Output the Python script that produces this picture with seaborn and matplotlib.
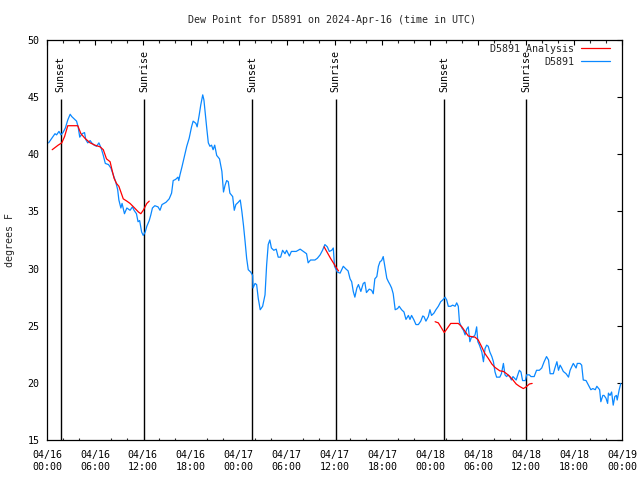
import matplotlib
matplotlib.use('Agg')
import matplotlib.pyplot as plt
from matplotlib.lines import Line2D
from matplotlib.ticker import MultipleLocator
import seaborn as sns
import pandas as pd

# ---------------- data (hours since 2024-04-16 00:00 UTC, dew point degF) ----------------
obs_hours = [0.2, 0.6, 1.0, 1.2, 1.5, 1.75, 2.0, 2.3, 2.6, 2.9, 3.1, 3.4, 3.7, 3.9, 4.1, 4.4, 4.7, 4.85,
             5.1, 5.4, 5.6, 5.9, 6.2, 6.5, 6.8, 7.05, 7.3, 7.7, 8.0, 8.3, 8.6, 8.85, 9.0, 9.25, 9.4, 9.7,
             10.0, 10.4, 10.7, 10.9, 11.2, 11.4, 11.6, 11.85, 12.05, 12.3, 12.5, 12.8, 13.0, 13.2, 13.5,
             13.9, 14.15, 14.4, 14.9, 15.3, 15.6, 15.8, 16.1, 16.4, 16.5, 16.65, 16.9, 17.2, 17.5, 17.8,
             18.1, 18.3, 18.65, 18.8, 19.05, 19.25, 19.5, 19.65, 19.8, 20.0, 20.2, 20.4, 20.6, 20.8, 21.0,
             21.25, 21.6, 21.9, 22.1, 22.3, 22.5, 22.7, 22.9, 23.25, 23.45, 23.65, 23.95, 24.2, 24.4, 24.6,
             24.8, 25.0, 25.2, 25.5, 25.75, 25.8, 26.05, 26.25, 26.45, 26.7, 27.0, 27.3, 27.5, 27.7, 27.9,
             28.1, 28.4, 28.7, 28.95, 29.25, 29.5, 29.8, 30.0, 30.35, 30.6, 31.2, 31.7, 32.1, 32.5, 32.7,
             33.0, 33.55, 33.85, 34.2, 34.5, 34.8, 35.1, 35.35, 35.65, 35.85, 36.0, 36.35, 36.7, 36.9, 37.1,
             37.45, 37.7, 37.95, 38.15, 38.35, 38.55, 38.8, 39.0, 39.3, 39.6, 39.8, 40.0, 40.35, 40.65,
             40.85, 41.05, 41.3, 41.5, 41.7, 41.9, 42.1, 42.3, 42.55, 42.75, 42.95, 43.15, 43.35, 43.6,
             43.9, 44.1, 44.4, 44.7, 44.95, 45.25, 45.45, 45.65, 45.95, 46.2, 46.5, 46.8, 47.05, 47.2,
             47.45, 47.75, 47.95, 48.15, 48.45, 48.7, 49.0, 49.3, 49.55, 49.85, 50.05, 50.25, 50.55, 50.8,
             51.1, 51.3, 51.5, 51.65, 51.95, 52.15, 52.35, 52.55, 52.75, 52.95, 53.15, 53.35, 53.6, 53.8,
             53.95, 54.15, 54.45, 54.65, 54.85, 55.05, 55.25, 55.45, 55.7, 55.9, 56.1, 56.3, 56.7, 56.9,
             57.15, 57.35, 57.55, 57.75, 57.95, 58.15, 58.35, 58.55, 58.75, 58.95, 59.15, 59.35, 59.55,
             59.9, 60.05, 60.4, 60.6, 61.0, 61.3, 61.65, 61.95, 62.25, 62.55, 62.8, 63.0, 63.4, 63.6,
             63.85, 64.05, 64.25, 64.45, 64.65, 65.0, 65.3, 65.5, 65.7, 65.9, 66.25, 66.4, 66.75, 66.95,
             67.15, 67.5, 67.8, 68.1, 68.35, 68.65, 68.85, 69.2, 69.35, 69.6, 69.75, 70.0, 70.2, 70.3,
             70.5, 70.7, 70.9, 71.1, 71.3, 71.4, 71.65, 71.85]
obs_dewpt = [41.0, 41.4, 41.8, 41.7, 42.0, 41.7, 41.9, 42.3, 43.0, 43.5, 43.3, 43.1, 42.9, 42.4, 41.5, 41.8,
             41.9, 41.3, 41.0, 41.2, 41.0, 40.8, 40.7, 41.0, 40.5, 39.9, 39.2, 39.1, 38.8, 38.2, 37.6, 36.9,
             36.0, 35.3, 35.7, 34.8, 35.3, 35.1, 35.4, 35.1, 34.8, 34.1, 34.2, 33.2, 32.9, 33.2, 33.7, 34.2,
             34.7, 35.3, 35.5, 35.4, 35.1, 35.6, 35.8, 36.1, 36.6, 37.7, 37.8, 38.0, 37.7, 38.2, 38.9, 39.8,
             40.7, 41.4, 42.4, 42.9, 42.7, 42.4, 43.4, 44.3, 45.2, 44.75, 43.7, 42.3, 41.0, 40.7, 40.8, 40.4,
             40.8, 39.9, 39.6, 38.5, 36.7, 37.3, 37.7, 37.6, 36.6, 36.3, 35.1, 35.6, 35.8, 36.0, 35.0, 33.8,
             32.4, 30.9, 29.9, 29.7, 29.4, 28.3, 28.7, 28.6, 27.4, 26.4, 26.7, 27.7, 30.3, 32.1, 32.5, 31.8,
             31.6, 31.7, 31.0, 31.0, 31.6, 31.3, 31.6, 31.1, 31.5, 31.5, 31.7, 31.5, 31.3, 30.5, 30.75, 30.75,
             30.9, 31.2, 31.6, 32.1, 31.9, 31.5, 31.6, 31.8, 30.2, 29.7, 29.6, 29.9, 30.2, 29.95, 29.8, 29.1,
             28.85, 28.0, 27.5, 28.3, 28.6, 28.0, 28.7, 28.8, 27.9, 28.2, 28.1, 27.8, 29.1, 29.3, 30.2, 30.6,
             30.7, 31.05, 30.2, 29.15, 28.85, 28.6, 28.3, 27.8, 26.4, 26.5, 26.7, 26.4, 26.2, 25.55, 25.9,
             25.55, 25.9, 25.5, 25.1, 25.1, 25.4, 25.85, 25.8, 25.4, 25.8, 26.4, 25.9, 26.1, 26.4, 26.7, 27.1,
             27.25, 27.5, 27.25, 26.7, 26.7, 26.8, 26.7, 27.0, 26.7, 25.3, 24.8, 24.6, 24.2, 24.7, 24.9, 23.6,
             24.0, 24.0, 24.2, 24.9, 23.6, 23.3, 22.7, 21.85, 23.0, 23.3, 23.2, 22.7, 22.3, 21.85, 20.95, 20.5,
             20.5, 20.8, 21.7, 20.7, 20.55, 20.7, 20.55, 20.25, 20.55, 20.4, 20.25, 20.7, 21.1, 20.95, 20.2,
             20.2, 20.7, 20.7, 20.55, 20.55, 21.1, 21.1, 21.3, 21.85, 22.3, 22.0, 20.8, 20.8, 21.3, 21.85,
             21.1, 21.55, 21.3, 21.0, 20.8, 20.5, 21.1, 21.4, 21.7, 21.3, 21.7, 21.7, 21.55, 20.25, 20.2,
             19.8, 19.4, 19.5, 19.4, 19.7, 19.4, 18.35, 18.9, 18.9, 18.65, 18.2, 19.1, 18.9, 19.2, 18.05,
             18.8, 18.9, 18.5, 19.4, 19.95]

ana_hours = [0.65, 1.4, 1.85, 2.2, 2.6, 3.85, 4.25, 4.75, 5.4, 6.0, 6.65, 7.05, 7.45, 7.9, 8.1, 8.4, 8.7,
             9.0, 9.25, 9.55, 10.0, 10.4, 10.9, 11.45, 11.75, 12.05, 12.5, 12.8,
             34.7, 35.1, 35.5, 35.9, 36.2, 36.5,
             48.6, 49.0, 49.75, 50.55, 51.5, 51.95, 52.35, 52.75, 53.15, 53.6, 54.0, 54.4, 54.8, 55.25,
             55.7, 56.1, 56.7, 57.15, 57.55, 57.95, 58.35, 58.75, 59.15, 59.65, 60.0, 60.4, 60.75]
ana_dewpt = [40.4, 40.8, 41.0, 41.55, 42.5, 42.5, 41.8, 41.4, 41.0, 40.8, 40.65, 40.4, 39.6, 39.35, 38.75,
             37.9, 37.45, 37.2, 36.7, 36.1, 35.9, 35.7, 35.35, 34.95, 34.8, 35.1, 35.7, 35.9,
             31.9, 31.4, 30.9, 30.45, 30.1, 29.8,
             25.35, 25.25, 24.4, 25.2, 25.2, 24.9, 24.5, 24.1, 24.05, 24.0, 23.75, 23.2, 22.6, 22.15,
             21.65, 21.35, 21.05, 21.0, 20.8, 20.55, 20.25, 19.9, 19.7, 19.5, 19.65, 19.9, 19.95]
ana_segment = [1] * 28 + [2] * 6 + [3] * 27

sun_hours = [1.72, 12.18, 25.71, 36.15, 49.75, 60.02]
sun_labels = ['Sunset', 'Sunrise', 'Sunset', 'Sunrise', 'Sunset', 'Sunrise']

xtick_hours = list(range(0, 73, 6))
xtick_labels = ['04/16\n00:00', '04/16\n06:00', '04/16\n12:00', '04/16\n18:00',
                '04/17\n00:00', '04/17\n06:00', '04/17\n12:00', '04/17\n18:00',
                '04/18\n00:00', '04/18\n06:00', '04/18\n12:00', '04/18\n18:00',
                '04/19\n00:00']
ytick_values = [15, 20, 25, 30, 35, 40, 45, 50]

title = 'Dew Point for D5891 on 2024-Apr-16 (time in UTC)'
ylabel = 'degrees F'
label_obs = 'D5891'
label_ana = 'D5891 Analysis'

# ---------------- plot ----------------
sns.set_style('white')
plt.rcParams['font.family'] = ['DejaVu Sans Mono']
FS = 7.2

obs = pd.DataFrame({'hour': obs_hours, 'dewpt': obs_dewpt})
ana = pd.DataFrame({'hour': ana_hours, 'dewpt': ana_dewpt, 'seg': ana_segment})

fig = plt.figure(figsize=(6.4, 4.8), dpi=100)
ax = fig.add_axes([47 / 640, 40 / 480, 575 / 640, 400 / 480])

BLUE = '#0a88ff'
RED = '#ff0000'

sns.lineplot(data=obs, x='hour', y='dewpt', ax=ax, color=BLUE, linewidth=0.9, legend=False)
sns.lineplot(data=ana, x='hour', y='dewpt', units='seg', estimator=None, ax=ax,
             color=RED, linewidth=0.9, legend=False)

for h, lab in zip(sun_hours, sun_labels):
    ax.vlines(h, 15, 44.8, color='black', linewidth=1.0, zorder=1)
    ax.text(h, 45.45, lab, rotation=90, ha='center', va='bottom', fontsize=FS, color='black')

ax.set_xlim(0, 72)
ax.set_ylim(15, 50)
ax.set_xticks(xtick_hours)
ax.set_xticklabels(xtick_labels)
ax.xaxis.set_minor_locator(MultipleLocator(2))
ax.set_yticks(ytick_values)
ax.set_yticklabels([str(v) for v in ytick_values])
ax.tick_params(axis='both', which='major', direction='in', length=3.3, width=0.8,
               top=True, right=True, labelsize=FS, color='black', labelcolor='black')
ax.tick_params(axis='x', which='minor', direction='in', length=1.8, width=0.8, top=True, bottom=True)
ax.tick_params(axis='y', which='major', pad=5.5)
ax.tick_params(axis='x', which='major', pad=7.5)
for lab in ax.get_xticklabels():
    lab.set_linespacing(1.25)
for sp in ax.spines.values():
    sp.set_visible(True)
    sp.set_color('black')
    sp.set_linewidth(0.9)
ax.set_xlabel('')
ax.set_ylabel('')
ax.grid(False)

fig.text(332 / 640, 1 - 20 / 480, title, ha='center', va='center', fontsize=FS)
fig.text(10 / 640, 0.5, ylabel, ha='center', va='center', rotation=90, fontsize=FS)

handles = [Line2D([0], [0], color=RED, linewidth=0.9), Line2D([0], [0], color=BLUE, linewidth=0.9)]
ax.legend(handles, [label_ana, label_obs], loc='upper right', bbox_to_anchor=(0.979, 0.99),
          frameon=False, markerfirst=False, handlelength=2.9, handletextpad=0.7,
          labelspacing=0.3, borderaxespad=0, borderpad=0, fontsize=FS)

fig.savefig('out.png', dpi=100)
